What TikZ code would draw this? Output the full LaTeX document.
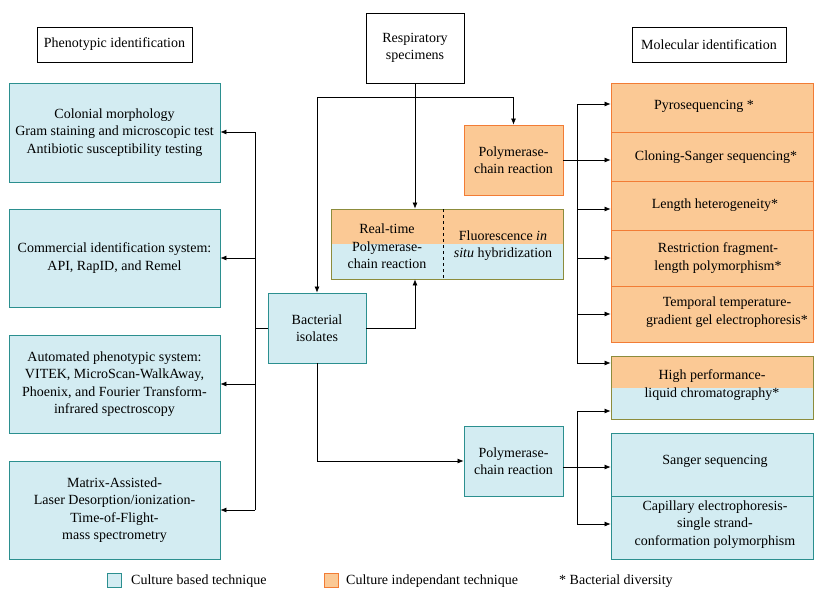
\documentclass[tikz,border=0pt]{standalone}
\usepackage{fontspec}
\setmainfont{Liberation Serif}
\usetikzlibrary{arrows.meta}
\definecolor{bluefill}{HTML}{D3ECF2}
\definecolor{blueline}{HTML}{2B8F8F}
\definecolor{orfill}{HTML}{FBC995}
\definecolor{orline}{HTML}{F27C35}
\definecolor{oliveline}{HTML}{8C8C3C}
\newcommand\myfs{\fontsize{14}{17.3}\selectfont}
\tikzset{
  txt/.style={font=\myfs, align=center, inner sep=0pt},
  boxb/.style={txt, draw=blueline, fill=bluefill, line width=0.8pt},
  boxo/.style={txt, draw=orline, fill=orfill, line width=0.8pt},
  boxw/.style={txt, draw=black, fill=white, line width=0.8pt},
  boxm/.style={txt, draw=oliveline, fill=bluefill, line width=0.8pt,
    path picture={\fill[orfill] (path picture bounding box.north west) rectangle (path picture bounding box.east);}},
  arr/.style={-{Latex[length=6pt,width=5pt]}, line width=0.7pt},
  ln/.style={line width=0.7pt}
}
\begin{document}
\begin{tikzpicture}[x=1pt,y=-1pt]
\useasboundingbox (0,0) rectangle (814,589);
% header boxes
\node[boxw, minimum width=155pt, minimum height=35pt] (phen) at (114.5,44.5) {Phenotypic identification};
\node[boxw, minimum width=98pt, minimum height=70pt] (resp) at (415,48) {Respiratory\\specimens};
\node[boxw, minimum width=154pt, minimum height=35pt] (mol) at (709,44.5) {Molecular identification};
% left boxes
\node[boxb, minimum width=211pt, minimum height=99pt] (b1) at (114.5,132.5) {Colonial morphology\\Gram staining and microscopic test\\Antibiotic susceptibility testing};
\node[boxb, minimum width=211pt, minimum height=98pt] (b2) at (114.5,258) {Commercial identification system:\\API, RapID, and Remel};
\node[boxb, minimum width=211pt, minimum height=98pt] (b3) at (114.5,384) {Automated phenotypic system:\\VITEK, MicroScan-WalkAway,\\Phoenix, and Fourier Transform-\\infrared spectroscopy};
\node[boxb, minimum width=211pt, minimum height=98pt] (b4) at (114.5,510) {Matrix-Assisted-\\Laser Desorption/ionization-\\Time-of-Flight-\\mass spectrometry};
% centre
\node[boxb, minimum width=98pt, minimum height=70pt] (bact) at (317,328) {Bacterial\\isolates};
\node[boxo, minimum width=99pt, minimum height=70pt] (opcr) at (513.5,160) {Polymerase-\\chain reaction};
\node[boxm, minimum width=232pt, minimum height=70pt] (rt) at (447,244) {};
\draw[dashed, line width=0.7pt] (443,209) -- (443,279);
\node[txt] (rtt) at (387,246.5) {Real-time\\Polymerase-\\chain reaction};
\node[txt] (fish) at (503,245.5) {Fluorescence \textit{in}\\\textit{situ} hybridization};
\node[boxb, minimum width=99pt, minimum height=70pt] (bpcr) at (513.5,461) {Polymerase-\\chain reaction};
% right boxes
\node[boxo, minimum width=202pt, minimum height=49pt] (pyro) at (712,107.5) {};
\node[txt] (pyrot) at (704,106) {Pyrosequencing *};
\node[boxo, minimum width=202pt, minimum height=49pt] (clon) at (712,156.5) {};
\node[txt] (clont) at (716,157) {Cloning-Sanger sequencing*};
\node[boxo, minimum width=202pt, minimum height=49pt] (len) at (712,205.5) {};
\node[txt] (lent) at (715,205) {Length heterogeneity*};
\node[boxo, minimum width=202pt, minimum height=56pt] (rflp) at (712,258) {};
\node[txt] (rflpt) at (718,258) {Restriction fragment-\\length polymorphism*};
\node[boxo, minimum width=202pt, minimum height=56pt] (ttge) at (712,314) {};
\node[txt] (ttget) at (727,312) {Temporal temperature-\\gradient gel electrophoresis*};
\node[boxm, minimum width=202pt, minimum height=63pt] (hplc) at (712,387.5) {};
\node[txt] (hplct) at (712,385) {High performance-\\liquid chromatography*};
\node[boxb, minimum width=202pt, minimum height=63pt] (sang) at (712,464.5) {};
\node[txt] (sangt) at (715,461) {Sanger sequencing};
\node[boxb, minimum width=202pt, minimum height=63pt] (cap) at (712,527.5) {};
\node[txt] (capt) at (715,524.5) {Capillary electrophoresis-\\single strand-\\conformation polymorphism};
% connectors from respiratory specimens
\coordinate (split) at (415,97);
\draw[ln] (resp.south) -- (split);
\draw[arr] (split) -- (resp.south |- rt.north);
\draw[arr] (split) -| (bact.north);
\draw[arr] (split) -| (opcr.north);
% bacterial isolates
\draw[arr] (bact.east) -| (resp.south |- rt.south);
\draw[arr] (bact.south) |- (bpcr.west);
\coordinate (lb) at (255,328);
\coordinate (lbt) at (255,132);
\coordinate (lbb) at (255,510);
\draw[ln] (bact.west) -- (lb);
\draw[ln] (lbt) -- (lbb);
\draw[arr] (lbt) -- (b1.east |- lbt);
\draw[arr] (255,258) -- (b2.east);
\draw[arr] (255,384) -- (b3.east);
\draw[arr] (lbb) -- (b4.east);
% orange PCR to right
\coordinate (rbt) at (577,104);
\coordinate (rbb) at (577,363);
\draw[ln] (rbt) -- (rbb);
\draw[arr] (opcr.east) -- (opcr.east -| clon.west);
\draw[arr] (rbt) -- (pyro.west |- rbt);
\draw[arr] (577,209) -- (len.west |- 0,209);
\draw[arr] (577,258) -- (rflp.west);
\draw[arr] (577,314) -- (ttge.west);
\draw[arr] (rbb) -- (hplc.west |- rbb);
% blue PCR to right
\coordinate (bo) at (563,467);
\coordinate (cbt) at (577,411);
\coordinate (cbb) at (577,524);
\draw[ln] (cbt) -- (cbb);
\draw[arr] (bo) -- (sang.west |- bo);
\draw[arr] (cbt) -- (hplc.west |- cbt);
\draw[arr] (cbb) -- (cap.west |- cbb);
% legend
\node[draw=blueline, fill=bluefill, line width=0.8pt, minimum size=14pt, inner sep=0pt] (lgb) at (114.5,580) {};
\node[txt, anchor=west] (lgbt) at (131,581) {Culture based technique};
\node[draw=orline, fill=orfill, line width=0.8pt, minimum size=14pt, inner sep=0pt] (lgo) at (331.5,580) {};
\node[txt, anchor=west] (lgot) at (346,581) {Culture independant technique};
\node[txt, anchor=west] (lgst) at (559,581) {* Bacterial diversity};
\end{tikzpicture}
\end{document}
